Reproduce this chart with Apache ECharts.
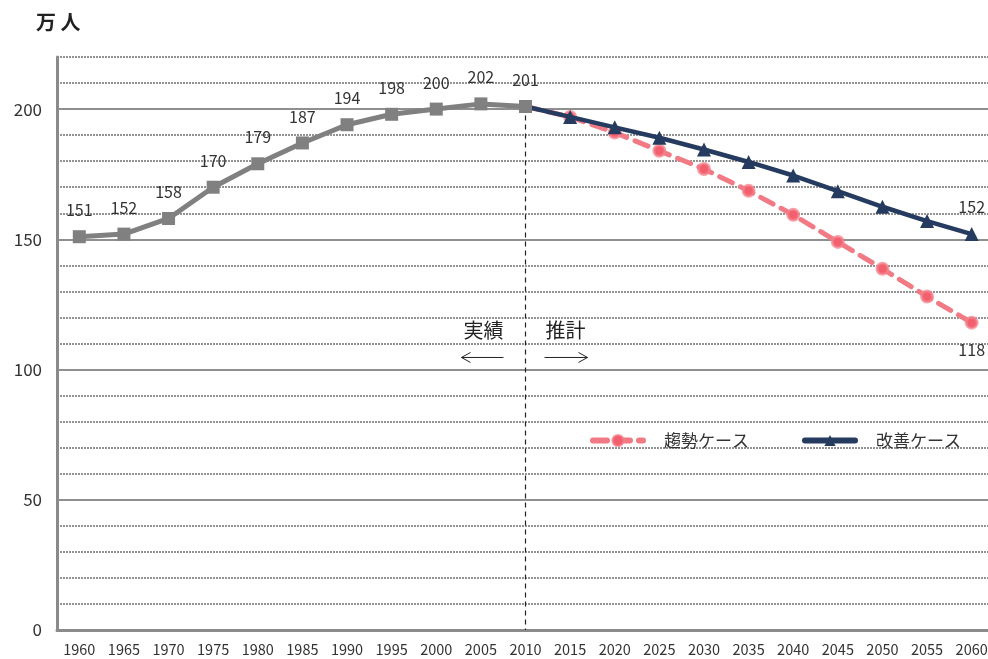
<!DOCTYPE html>
<html>
<head>
<meta charset="utf-8">
<script src="https://cdn.jsdelivr.net/npm/echarts@6/dist/echarts.min.js"></script>
<style>
  html, body { margin: 0; padding: 0; background: #fff; overflow: hidden; }
  #chart { width: 996px; height: 659px; }
</style>
</head>
<body>
<div id="chart"></div>
<script>
// Population (万人): actual values to 2010, two projection cases to 2060
const years = ['1960','1965','1970','1975','1980','1985','1990','1995','2000','2005','2010',
               '2015','2020','2025','2030','2035','2040','2045','2050','2055','2060'];
const actual = [151, 152, 158, 170, 179, 187, 194, 198, 200, 202, 201];
const trendCase = [201, 197, 191, 184, 177, 168.6, 159.4, 149, 138.7, 128, 118];
const improvedCase = [201, 197, 193, 189, 184.5, 179.7, 174.5, 168.5, 162.5, 157, 152];
const yMajorTicks = [0, 50, 100, 150, 200];

const FONT = '"Noto Sans CJK JP", "Noto Sans", sans-serif';
const firstProjection = actual.length - 1;

function padProjection(values) {
  const out = years.map(() => null);
  values.forEach((v, i) => {
    const idx = firstProjection + i;
    out[idx] = i === 0 ? { value: v, symbol: 'none' } : v;
  });
  return out;
}

function lastLabelOnly(values, position) {
  const data = padProjection(values);
  const last = data.length - 1;
  data[last] = {
    value: data[last],
    label: { show: true, position: position, distance: 12, color: '#333', fontSize: 16, fontFamily: FONT }
  };
  return data;
}

const chart = echarts.init(document.getElementById('chart'), null, { renderer: 'canvas' });

const option = {
  animation: false,
  backgroundColor: '#fff',
  textStyle: { fontFamily: FONT },
  title: {
    text: '万 人',
    left: 31, top: 7,
    textStyle: { fontSize: 20, fontWeight: 'bold', color: '#222', fontFamily: FONT }
  },
  legend: {
    data: ['趨勢ケース', '改善ケース'],
    left: 585, top: 427,
    itemWidth: 50, itemHeight: 14, itemGap: 53,
    lineStyle: { width: 6, cap: 'round' },
    textStyle: { fontSize: 17, color: '#333', fontFamily: FONT, padding: [0, 0, 0, 16] }
  },
  grid: { left: 57, top: 57, bottom: 29, width: 937 },
  xAxis: {
    type: 'category',
    data: years,
    boundaryGap: true,
    axisTick: { show: false },
    axisLine: { lineStyle: { color: '#8a8a8a', width: 3 } },
    axisLabel: { color: '#333', fontSize: 14.5, margin: 12, fontFamily: FONT, interval: 0 },
    splitLine: { show: false }
  },
  yAxis: [
    {
      type: 'value', min: 0, max: 220, interval: 10,
      axisLine: { show: true, lineStyle: { color: '#8a8a8a', width: 3 } },
      axisTick: { show: false },
      axisLabel: {
        color: '#333', fontSize: 17, margin: 15, fontFamily: FONT,
        formatter: v => (yMajorTicks.indexOf(v) >= 0 ? String(v) : '')
      },
      splitLine: { show: true, lineStyle: { color: '#939393', width: 2, type: [2, 1] } }
    },
    {
      type: 'value', min: 0, max: 220, interval: 50,
      position: 'left',
      axisLine: { show: false },
      axisTick: { show: false },
      axisLabel: { show: false },
      splitLine: { show: true, showMaxLine: false, lineStyle: { color: '#8f8f8f', width: 2, type: 'solid' } }
    }
  ],
  series: [
    {
      name: '趨勢ケース',
      type: 'line',
      data: lastLabelOnly(trendCase, 'bottom'),
      symbol: 'circle', symbolSize: 11,
      lineStyle: { color: '#f17a85', width: 5, type: [14, 9], cap: 'round' },
      itemStyle: { color: '#f25f6d', borderColor: 'rgba(244,130,140,0.75)', borderWidth: 3 },
      z: 3
    },
    {
      name: '改善ケース',
      type: 'line',
      data: lastLabelOnly(improvedCase, 'top'),
      symbol: 'triangle', symbolSize: 14,
      lineStyle: { color: '#253b5f', width: 4.5 },
      itemStyle: { color: '#253b5f' },
      z: 4
    },
    {
      name: '実績',
      type: 'line',
      data: actual,
      symbol: 'rect', symbolSize: 13,
      lineStyle: { color: '#808080', width: 5 },
      itemStyle: { color: '#808080' },
      label: { show: true, position: 'top', distance: 12, color: '#333', fontSize: 16, fontFamily: FONT },
      markLine: {
        silent: true,
        symbol: ['none', 'none'],
        label: { show: false },
        lineStyle: { color: '#222', width: 1.2, type: [5, 4] },
        data: [[
          { coord: [years[firstProjection], actual[firstProjection]] },
          { coord: [years[firstProjection], 0] }
        ]]
      },
      z: 5
    }
  ]
};

chart.setOption(option);

// Annotation: actual / projected split with arrows on either side of 2010
const splitX = chart.convertToPixel({ xAxisIndex: 0 }, years[firstProjection]);
const textY = chart.convertToPixel({ yAxisIndex: 0 }, 115);
const arrowY = textY + 27;
function arrow(x1, x2, y) {
  const dir = x2 > x1 ? 1 : -1;
  return [
    { type: 'line', shape: { x1: x1, y1: y, x2: x2, y2: y }, style: { stroke: '#222', lineWidth: 1 } },
    { type: 'polyline', shape: { points: [[x2 - dir * 9, y - 5], [x2, y], [x2 - dir * 9, y + 5]] },
      style: { stroke: '#222', lineWidth: 1, fill: null } }
  ];
}
chart.setOption({
  graphic: [
    { type: 'text', x: splitX - 42, y: textY, style: { text: '実績', font: '20px ' + FONT, fill: '#222', align: 'center', verticalAlign: 'middle' } },
    { type: 'text', x: splitX + 40, y: textY, style: { text: '推計', font: '20px ' + FONT, fill: '#222', align: 'center', verticalAlign: 'middle' } }
  ].concat(arrow(splitX - 22, splitX - 64, arrowY), arrow(splitX + 19, splitX + 62, arrowY))
});
</script>
</body>
</html>
